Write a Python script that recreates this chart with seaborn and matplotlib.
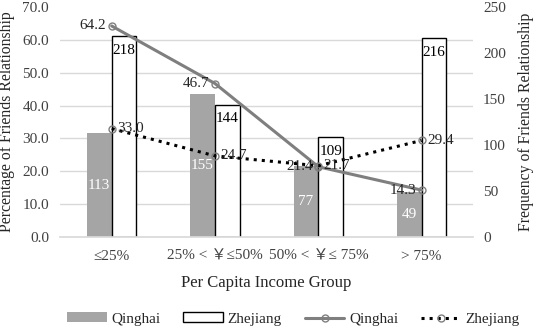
import numpy as np
import pandas as pd
import matplotlib
matplotlib.use("Agg")
import matplotlib.pyplot as plt
from matplotlib.patches import Patch
from matplotlib.lines import Line2D
import seaborn as sns

groups = ["≤25%", "25% < ￥≤50%", "50% < ￥≤ 75%", "> 75%"]
qinghai_freq = [113, 155, 77, 49]
zhejiang_freq = [218, 144, 109, 216]
qinghai_pct = [64.2, 46.7, 21.4, 14.3]
zhejiang_pct = [33.0, 24.7, 21.7, 29.4]

sns.set_theme(style="white")
plt.rcParams["font.family"] = ["Liberation Serif", "Noto Sans CJK SC", "DejaVu Serif"]

bars = pd.DataFrame({
    "group": groups * 2,
    "freq": qinghai_freq + zhejiang_freq,
    "prov": ["Qinghai"] * 4 + ["Zhejiang"] * 4,
})

fig, ax = plt.subplots(figsize=(5.36, 3.28), dpi=100)
fig.subplots_adjust(left=0.112, right=0.883, top=0.979, bottom=0.277)

# bars on the frequency axis (right side)
sns.barplot(data=bars, x="group", y="freq", hue="prov",
            palette={"Qinghai": "#a5a5a5", "Zhejiang": "white"},
            width=0.48, ax=ax, legend=False, saturation=1)
for p in ax.containers[1]:
    p.set_edgecolor("black")
    p.set_linewidth(1.0)
for p in ax.containers[0]:
    p.set_edgecolor("none")
ax.bar_label(ax.containers[0], label_type="center", color="white", fontsize=11)
ax.bar_label(ax.containers[1], label_type="edge", padding=-15, color="black", fontsize=11)
ax.set_ylim(0, 250)
ax.set_xlim(-0.5, 3.5)
ax.set_xlabel("Per Capita Income Group", fontsize=12, labelpad=9)
# gridlines at every 10 % of the left axis
ax.set_yticks(np.arange(0, 71, 10) * 250 / 70, minor=True)
ax.grid(axis="y", which="minor", color="#d9d9d9", linewidth=1)
ax.set_axisbelow(True)
for s in ax.spines.values():
    s.set_visible(False)
ax.spines["bottom"].set_visible(True)
ax.spines["bottom"].set_color("#d9d9d9")

# lines on the percentage axis (left side)
ax2 = ax.twinx()
pos = np.arange(len(groups))
sns.lineplot(x=pos, y=qinghai_pct, ax=ax2, color="#7f7f7f", linewidth=2.2,
             marker="o", markersize=5, markerfacecolor="none",
             markeredgecolor="#7f7f7f", markeredgewidth=1)
sns.lineplot(x=pos, y=zhejiang_pct, ax=ax2, color="black", linewidth=2.2,
             linestyle=":", marker="o", markersize=5, markerfacecolor="none",
             markeredgecolor="#7f7f7f", markeredgewidth=1)
for x, v in zip(pos, qinghai_pct):
    ax2.annotate(f"{v:.1f}", (x, v), xytext=(-4, 0), textcoords="offset points",
                 ha="right", va="center", fontsize=11, color="#262626")
for x, v in zip(pos, zhejiang_pct):
    ax2.annotate(f"{v:.1f}", (x, v), xytext=(4, 0), textcoords="offset points",
                 ha="left", va="center", fontsize=11, color="#262626")
ax2.set_ylim(0, 70)
ax2.set_yticks(np.arange(0, 71, 10))
ax2.set_yticklabels([f"{t:.1f}" for t in np.arange(0, 71, 10)])
for s in ax2.spines.values():
    s.set_visible(False)

# swap sides: percentages left, frequencies right
ax.set_yticks(np.arange(0, 251, 50))
ax.yaxis.tick_right()
ax.yaxis.set_label_position("right")
ax.set_ylabel("Frequency of Friends Relationship", fontsize=11.3, labelpad=9)
ax.tick_params(axis="y", which="both", length=0, labelsize=11, labelcolor="#404040", pad=7)
ax.tick_params(axis="x", length=0, labelsize=11, labelcolor="#404040", pad=9)
ax2.yaxis.tick_left()
ax2.yaxis.set_label_position("left")
ax2.set_ylabel("Percentage of Friends Relationship", fontsize=11.3, labelpad=5)
ax2.tick_params(axis="y", length=0, labelsize=11, labelcolor="#404040", pad=8)

handles = [
    Patch(facecolor="#a5a5a5", edgecolor="none"),
    Patch(facecolor="white", edgecolor="black"),
    Line2D([], [], color="#7f7f7f", lw=2.2, marker="o", ms=5, mfc="none", mec="#7f7f7f"),
    Line2D([], [], color="black", lw=2.2, ls=":", marker="o", ms=5, mfc="none", mec="#7f7f7f"),
]
fig.legend(handles, ["Qinghai", "Zhejiang", "Qinghai", "Zhejiang"], loc="lower center",
           bbox_to_anchor=(0.547, -0.035), ncol=4, frameon=False, fontsize=11,
           handlelength=2.6, handleheight=0.6, columnspacing=1.5, handletextpad=0.3)

fig.savefig("out.png", dpi=100)
